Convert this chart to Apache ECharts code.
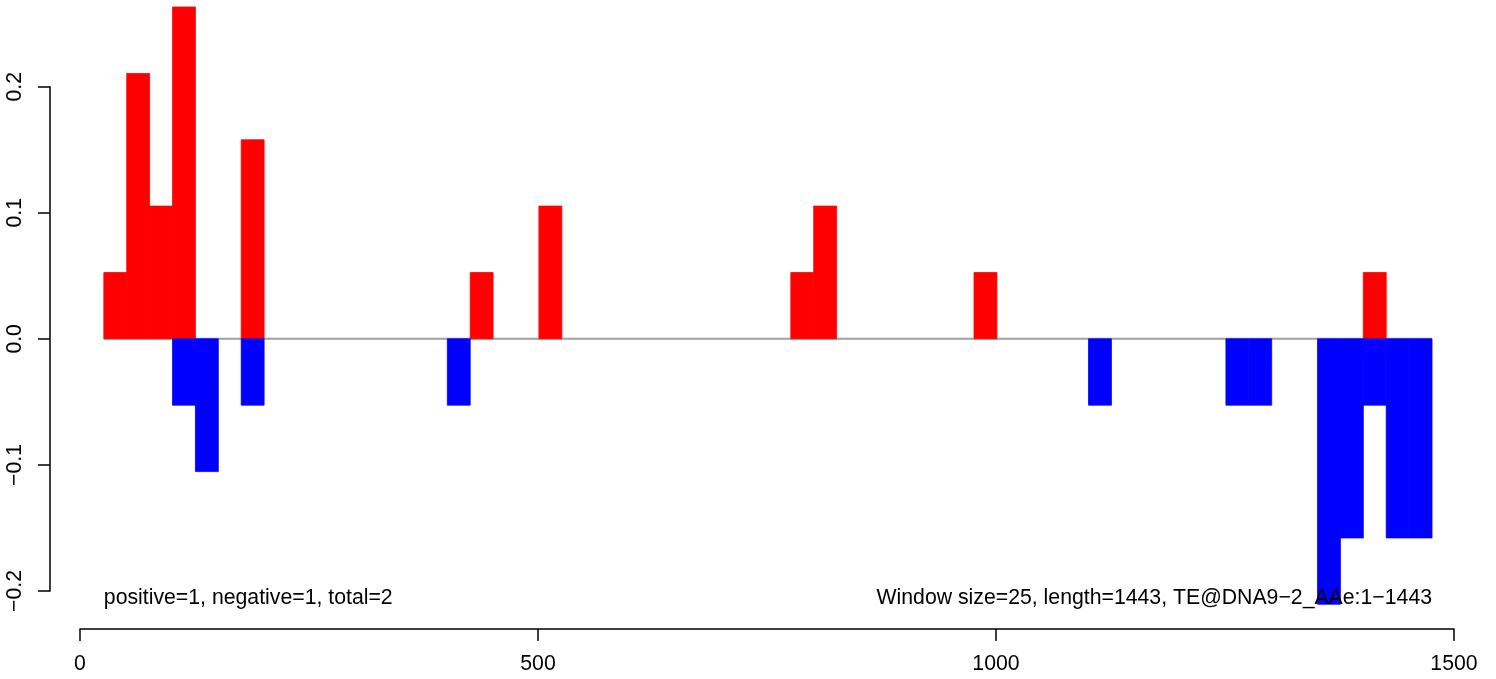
<!DOCTYPE html>
<html>
<head>
<meta charset="utf-8">
<script src="https://cdn.jsdelivr.net/npm/echarts@6/dist/echarts.min.js"></script>
<style>
html,body{margin:0;padding:0;background:#fff;}
#chart{width:1496px;height:679px;}
</style>
</head>
<body>
<div id="chart"></div>
<script>
// Window size for each bar
const windowSize = 25;
// Positive (red) windows: start position and value
const posStart = [26, 51, 76, 101, 176, 426, 501, 776, 801, 976, 1401];
const posValue = [0.0526, 0.2105, 0.1053, 0.2632, 0.1579, 0.0526, 0.1053, 0.0526, 0.1053, 0.0526, 0.0526];
// Negative (blue) windows: start position and value
const negStart = [101, 126, 176, 401, 1101, 1251, 1276, 1351, 1376, 1401, 1426, 1451];
const negValue = [-0.0526, -0.1053, -0.0526, -0.0526, -0.0526, -0.0526, -0.0526, -0.2105, -0.1579, -0.0526, -0.1579, -0.1579];
// Baseline extent
const baseFrom = 26, baseTo = 1476;
// Axis ticks
const xTicks = [0, 500, 1000, 1500];
const yTicks = [-0.2, -0.1, 0.0, 0.1, 0.2];
const leftText = 'positive=1, negative=1, total=2';
const rightText = 'Window size=25, length=1443, TE@DNA9\u22122_AAe:1\u22121443';

const FONT = 'Liberation Sans, Arial, Helvetica, sans-serif';
const FS = 21.25;

const chart = echarts.init(document.getElementById('chart'), null, {renderer: 'canvas'});

function rectItem(color) {
  return function (params, api) {
    const s = api.value(0), v = api.value(1);
    const p0 = api.coord([s, 0]);
    const p1 = api.coord([s + windowSize, v]);
    return {
      type: 'rect',
      shape: {
        x: p0[0], y: Math.min(p0[1], p1[1]),
        width: p1[0] - p0[0], height: Math.abs(p1[1] - p0[1])
      },
      style: {fill: color, stroke: color, lineWidth: 0.8}
    };
  };
}

const fmtY = v => {
  const s = Math.abs(v).toFixed(1);
  return v < -1e-9 ? '\u2212' + s : s;
};
const fmtX = v => String(Math.round(v));

const option = {
  animation: false,
  backgroundColor: '#ffffff',
  grid: {left: 80, right: 42, top: 86.7, bottom: 88, containLabel: false},
  xAxis: {
    type: 'value', min: xTicks[0], max: xTicks[xTicks.length - 1], interval: 500,
    offset: 38,
    axisLine: {show: true, onZero: false, lineStyle: {color: '#000', width: 1.5}},
    axisTick: {show: true, length: 12, lineStyle: {color: '#000', width: 1.5}},
    axisLabel: {color: '#000', fontFamily: FONT, fontSize: FS, margin: 25, formatter: fmtX},
    splitLine: {show: false}
  },
  yAxis: {
    type: 'value', min: yTicks[0], max: yTicks[yTicks.length - 1], interval: 0.1,
    offset: 30,
    axisLine: {show: true, onZero: false, lineStyle: {color: '#000', width: 1.5}},
    axisTick: {show: true, length: 12, lineStyle: {color: '#000', width: 1.5}},
    axisLabel: {color: '#000', fontFamily: FONT, fontSize: FS, rotate: 90, margin: 24, formatter: fmtY},
    splitLine: {show: false}
  },
  series: [
    {
      type: 'line', data: [[baseFrom, 0], [baseTo, 0]], symbol: 'none',
      lineStyle: {color: '#a0a0a0', width: 2}, z: 1, silent: true
    },
    {
      type: 'custom', renderItem: rectItem('#ff0000'), clip: false, z: 2,
      data: posStart.map((s, i) => [s, posValue[i]])
    },
    {
      type: 'custom', renderItem: rectItem('#0000ff'), clip: false, z: 2,
      data: negStart.map((s, i) => [s, negValue[i]])
    }
  ]
};
chart.setOption(option);

const xl = chart.convertToPixel({gridIndex: 0}, [baseFrom, 0])[0];
const xr = chart.convertToPixel({gridIndex: 0}, [baseTo, 0])[0];
chart.setOption({
  graphic: [
    {type: 'text', x: xl, y: 598, z: 10,
     style: {text: leftText, font: FS + 'px ' + FONT, fill: '#000', textAlign: 'left', textVerticalAlign: 'middle'}},
    {type: 'text', x: xr, y: 598, z: 10,
     style: {text: rightText, font: FS + 'px ' + FONT, fill: '#000', textAlign: 'right', textVerticalAlign: 'middle'}}
  ]
});
</script>
</body>
</html>
